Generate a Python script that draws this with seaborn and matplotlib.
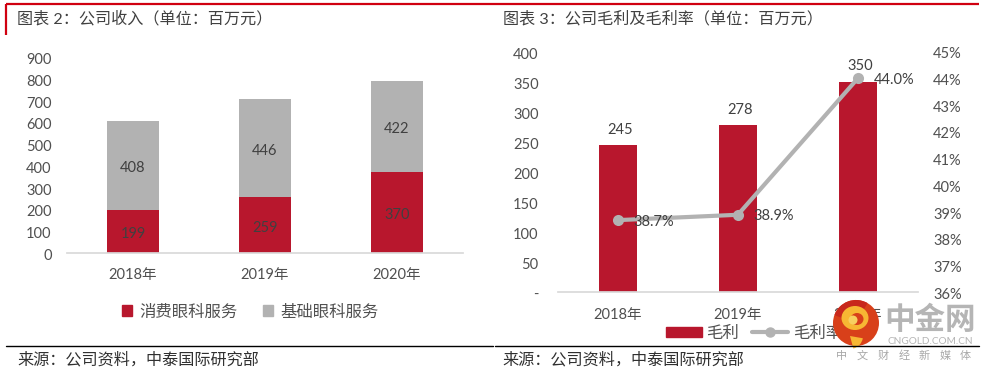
"""中泰国际研报图：公司收入、毛利及毛利率。"""

import matplotlib

matplotlib.use("Agg")

from matplotlib.lines import Line2D
from matplotlib.patches import Circle, Ellipse, Patch, Wedge
from matplotlib.transforms import ScaledTranslation
import matplotlib.pyplot as plt
import pandas as pd
import seaborn as sns

years = ["2018年", "2019年", "2020年"]
consumer_rev = [199, 259, 370]
basic_rev = [408, 446, 422]
gross_profit = [245, 278, 350]
gross_margin = [38.7, 38.9, 44.0]
left_ticks = [0, 100, 200, 300, 400, 500, 600, 700, 800, 900]
right_ticks = [0, 50, 100, 150, 200, 250, 300, 350, 400]
margin_ticks = [36, 37, 38, 39, 40, 41, 42, 43, 44, 45]

RED = "#b8172d"
GREY = "#b2b2b2"
TEXT = "#505050"
W, H = 990, 373


def px_axes(fig, x0, x1, y_top, y_bottom):
    return fig.add_axes([x0 / W, 1 - y_bottom / H, (x1 - x0) / W, (y_bottom - y_top) / H])


def clean_axis(ax):
    sns.despine(ax=ax, left=True)
    ax.spines["bottom"].set_color("#d9d9d9")
    ax.set_xlabel("")
    ax.set_ylabel("")
    ax.tick_params(axis="both", length=0, colors=TEXT, labelsize=10.5)
    ax.tick_params(axis="x", pad=11)


def nudge_yticks(ax, fig, px=1.5):
    # Lato 的數字比參考圖略高，往下移一點
    shift = ScaledTranslation(0, -px / 100, fig.dpi_scale_trans)
    for label in ax.get_yticklabels():
        label.set_transform(label.get_transform() + shift)


sns.set_theme(style="white")
plt.rcParams["font.family"] = ["Lato", "Noto Sans CJK SC", "DejaVu Sans"]

fig = plt.figure(figsize=(W / 100, H / 100), dpi=100, facecolor="white")

# === 图表 2：公司收入 ===
df_rev = pd.DataFrame({"year": years, "consumer": consumer_rev, "basic": basic_rev})
ax1 = px_axes(fig, 67, 463, 57, 253)
sns.barplot(data=df_rev, x="year", y="consumer", color=RED, width=0.4, saturation=1,
            linewidth=0, ax=ax1)
sns.barplot(data=df_rev, x="year", y="basic", bottom=df_rev["consumer"], color=GREY,
            width=0.4, saturation=1, linewidth=0, ax=ax1)
for bars in ax1.containers:
    for ann in ax1.bar_label(bars, label_type="center", color="#404040", fontsize=10.5):
        ann.xyann = (0, -2)
ax1.set_ylim(0, 900)
ax1.set_yticks(left_ticks)
clean_axis(ax1)
ax1.tick_params(axis="y", pad=11)
nudge_yticks(ax1, fig)
ax1.legend(
    handles=[Patch(color=RED, label="消费眼科服务"), Patch(color=GREY, label="基础眼科服务")],
    loc="center", bbox_to_anchor=(0.463, -0.30), ncol=2, frameon=False, fontsize=11.8,
    labelcolor=TEXT, handlelength=0.62, handleheight=0.62, handletextpad=0.45, columnspacing=1.5,
)

# === 图表 3：毛利及毛利率 ===
df_gp = pd.DataFrame({"year": years, "profit": gross_profit, "margin": gross_margin})
ax2 = px_axes(fig, 558, 917.7, 51.7, 292.3)
sns.barplot(data=df_gp, x="year", y="profit", color=RED, width=0.315, saturation=1,
            linewidth=0, ax=ax2)
for ann in ax2.bar_label(ax2.containers[0], padding=6, color="#404040", fontsize=10.5):
    ann.xyann = (1.5, 6)
ax2.set_ylim(0, 400)
ax2.set_yticks(right_ticks)
ax2.set_yticklabels(["-"] + [str(v) for v in right_ticks[1:]])
clean_axis(ax2)
ax2.tick_params(axis="y", pad=14)
nudge_yticks(ax2, fig)

ax3 = ax2.twinx()
sns.lineplot(data=df_gp, x="year", y="margin", color=GREY, linewidth=3, marker="o",
             markersize=8, markeredgewidth=0, sort=False, ax=ax3)
for i, m in enumerate(gross_margin):
    ax3.annotate(f"{m:.1f}%", (i, m), xytext=(26, -1), textcoords="offset points",
                 ha="center", va="center", color="#404040", fontsize=10.5)
ax2.set_xlim(-0.5, 2.5)
ax3.set_ylim(36, 45)
ax3.set_yticks(margin_ticks)
ax3.set_yticklabels([f"{v}%" for v in margin_ticks])
ax3.set_xlabel("")
ax3.set_ylabel("")
ax3.tick_params(axis="y", length=0, colors=TEXT, labelsize=10.5, pad=11)
nudge_yticks(ax3, fig, px=1)
for side in ["top", "left", "right", "bottom"]:
    ax3.spines[side].set_visible(False)

fig.legend(
    handles=[Patch(color=RED, label="毛利"),
             Line2D([], [], color=GREY, lw=3, marker="o", markersize=6.5, label="毛利率")],
    loc="center", bbox_to_anchor=(754 / W, 1 - 333 / H), ncol=2, frameon=False, fontsize=11.8,
    labelcolor=TEXT, handlelength=2.2, handleheight=0.6, handletextpad=0.3, columnspacing=0.8,
)

# === 标题、框线、水印（像素座标）===
deco = fig.add_axes([0, 0, 1, 1], zorder=10)
deco.set_xlim(0, W)
deco.set_ylim(H, 0)
deco.axis("off")

deco.plot([6, 495], [4, 4], color="#d00010", lw=1.6, solid_capstyle="butt")
deco.plot([6, 6], [4, 35], color="#d00010", lw=1.6, solid_capstyle="butt")
deco.plot([495, 979], [4, 4], color="#d00010", lw=1.6, solid_capstyle="butt")
deco.plot([6, 493], [345.5, 345.5], color="black", lw=1)
deco.plot([495, 979], [345.5, 345.5], color="black", lw=1)

HEAD = "#404040"
deco.text(17, 18.5, "图表 2：公司收入（单位：百万元）", fontsize=11.6, color=HEAD, va="center")
deco.text(503, 18.5, "图表 3：公司毛利及毛利率（单位：百万元）", fontsize=11.6, color=HEAD, va="center")
deco.text(17, 360, "来源：公司资料，中泰国际研究部", fontsize=11.6, color="#303030", va="center")
deco.text(502, 360, "来源：公司资料，中泰国际研究部", fontsize=11.6, color="#303030", va="center")

deco.add_patch(Circle((856, 323), 23, color="#d8401a", lw=0))
deco.add_patch(Wedge((856, 323), 23, 200, 300, color="#c8281c", lw=0))
deco.add_patch(Ellipse((855, 318), 27, 24, color="#f7b733", lw=0))
deco.add_patch(Ellipse((857, 319), 13, 12, color="#d8401a", lw=0))
deco.add_patch(Circle((853, 320), 4.5, color="#f7d060", lw=0))
deco.add_patch(Wedge((850, 336), 13, 10, 75, color="#f7b733", lw=0))

deco.text(930, 319, "中金网", fontsize=22, fontweight="bold", color="#b5b5b5", ha="center", va="center")
deco.text(930, 341, "CNGOLD.COM.CN", fontsize=7.2, color="#b5b5b5", ha="center", va="center")
for i, ch in enumerate("中文财经新媒体"):
    deco.text(842 + i * 20.6, 355, ch, fontsize=8, color="#a8a8a8", ha="center", va="center")

plt.savefig("out.png", dpi=100)
